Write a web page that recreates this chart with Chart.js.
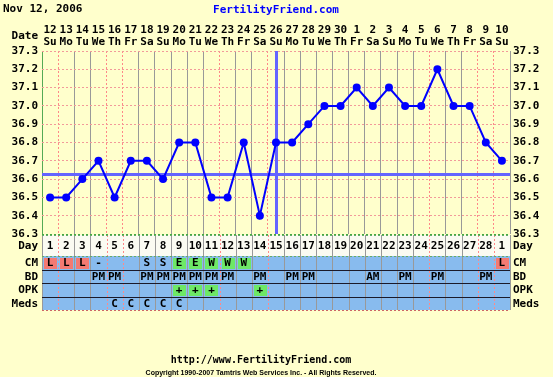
<!DOCTYPE html>
<html>
<head>
<meta charset="utf-8">
<script src="https://cdn.jsdelivr.net/npm/chart.js@4.4.1/dist/chart.umd.min.js"></script>
<style>
  html, body { margin: 0; padding: 0; background: #ffffcc; }
  canvas { display: block; }
</style>
</head>
<body>
<canvas id="bbtChart" width="553" height="377"></canvas>
<script>
const dates = ["12", "13", "14", "15", "16", "17", "18", "19", "20", "21", "22", "23", "24", "25", "26",
  "27", "28", "29", "30", "1", "2", "3", "4", "5", "6", "7", "8", "9", "10"];
const weekdays = ["Su", "Mo", "Tu", "We", "Th", "Fr", "Sa", "Su", "Mo", "Tu", "We", "Th", "Fr", "Sa", "Su",
  "Mo", "Tu", "We", "Th", "Fr", "Sa", "Su", "Mo", "Tu", "We", "Th", "Fr", "Sa", "Su"];
const cycleDays = ["1", "2", "3", "4", "5", "6", "7", "8", "9", "10", "11", "12", "13", "14", "15",
  "16", "17", "18", "19", "20", "21", "22", "23", "24", "25", "26", "27", "28", "1"];
const temps = [36.5, 36.5, 36.6, 36.7, 36.5, 36.7, 36.7, 36.6, 36.8, 36.8, 36.5, 36.5, 36.8, 36.4, 36.8,
  36.8, 36.9, 37.0, 37.0, 37.1, 37.0, 37.1, 37.0, 37.0, 37.2, 37.0, 37.0, 36.8, 36.7];
const coverline = 36.63;
const ovulationIndex = 14; // cycle day 15

const cm   = ["L", "L", "L", "-", "", "", "S", "S", "E", "E", "W", "W", "W", "", "",
  "", "", "", "", "", "", "", "", "", "", "", "", "", "L"];
const bd   = ["", "", "", "PM", "PM", "", "PM", "PM", "PM", "PM", "PM", "PM", "", "PM", "",
  "PM", "PM", "", "", "", "AM", "", "PM", "", "PM", "", "", "PM", ""];
const opk  = ["", "", "", "", "", "", "", "", "+", "+", "+", "", "", "+", "",
  "", "", "", "", "", "", "", "", "", "", "", "", "", ""];
const meds = ["", "", "", "", "C", "C", "C", "C", "C", "", "", "", "", "", "",
  "", "", "", "", "", "", "", "", "", "", "", "", "", ""];

// column boundaries drawn as red dotted lines instead of grey
const redBoundaries = [1, 4, 5, 11, 14, 24, 27, 28];

const FONT = "DejaVu Sans Mono";
const bold11 = { family: FONT, size: 11, weight: "bold", lineHeight: "12px" };

const tablePlugin = {
  id: "ffTable",
  beforeDraw(chart) {
    const ctx = chart.ctx;
    ctx.save();
    ctx.fillStyle = "#ffffcc";
    ctx.fillRect(0, 0, chart.width, chart.height);
    ctx.restore();
  },
  beforeDatasetsDraw(chart) {
    const ctx = chart.ctx;
    const x = chart.scales.x, y = chart.scales.y;
    const area = chart.chartArea;
    ctx.save();
    ctx.strokeStyle = "#6464ff";
    ctx.lineWidth = 3;
    const cy = Math.round(y.getPixelForValue(coverline)) + 0.5;
    ctx.beginPath();
    ctx.moveTo(area.left, cy);
    ctx.lineTo(area.right, cy);
    ctx.stroke();
    const ox = Math.round(x.getPixelForValue(ovulationIndex)) + 0.5;
    ctx.beginPath();
    ctx.moveTo(ox, area.top);
    ctx.lineTo(ox, area.bottom);
    ctx.stroke();
    ctx.restore();
  },
  afterDraw(chart) {
    const ctx = chart.ctx;
    const x = chart.scales.x;
    const area = chart.chartArea;
    const colW = x.width / dates.length;
    ctx.save();

    // header texts
    ctx.font = "bold 11px " + FONT;
    ctx.textBaseline = "middle";
    ctx.fillStyle = "#000";
    ctx.textAlign = "left";
    ctx.fillText("Nov 12, 2006", 3, 9);
    ctx.fillStyle = "#0000ff";
    ctx.textAlign = "center";
    ctx.fillText("FertilityFriend.com", 276, 10);
    ctx.fillStyle = "#000";
    ctx.textAlign = "right";
    ctx.fillText("Date", 38, 36);

    // table
    const dayTop = 235, dayBot = 256;
    const rowH = 13.5;
    const rows = [
      { name: "CM", cells: cm },
      { name: "BD", cells: bd },
      { name: "OPK", cells: opk },
      { name: "Meds", cells: meds }
    ];
    const tableBot = dayBot + rowH * rows.length;

    ctx.fillStyle = "#fbfbf2";
    ctx.fillRect(area.left, dayTop, area.right - area.left, dayBot - dayTop);
    ctx.fillStyle = "#88bbee";
    ctx.fillRect(area.left, dayBot, area.right - area.left, tableBot - dayBot);

    const cellColor = (v) => {
      if (v === "L") return "#f47a72";
      if (v === "E" || v === "W" || v === "+") return "#6ee866";
      return null;
    };

    rows.forEach((row, r) => {
      const top = dayBot + r * rowH;
      row.cells.forEach((v, i) => {
        const c = cellColor(v);
        if (c) {
          const cx = x.getPixelForValue(i);
          ctx.fillStyle = c;
          ctx.fillRect(Math.round(cx - colW / 2) + 2, Math.round(top) + 2, Math.round(colW) - 3, Math.round(rowH) - 3);
        }
      });
    });

    // vertical lines in table
    for (let k = 0; k <= dates.length; k++) {
      const lx = Math.round(area.left + k * colW) + 0.5;
      const red = redBoundaries.includes(k);
      ctx.strokeStyle = red ? "#ff8888" : "#999999";
      ctx.setLineDash(red ? [2, 2] : []);
      ctx.lineWidth = 1;
      ctx.beginPath();
      ctx.moveTo(lx, dayTop);
      ctx.lineTo(lx, tableBot);
      ctx.stroke();
    }
    ctx.setLineDash([]);

    // horizontal separators
    ctx.strokeStyle = "#66aa66";
    ctx.setLineDash([2, 2]);
    [dayTop, dayBot].forEach((yy) => {
      ctx.beginPath();
      ctx.moveTo(area.left, Math.round(yy) + 0.5);
      ctx.lineTo(area.right, Math.round(yy) + 0.5);
      ctx.stroke();
    });
    ctx.setLineDash([]);
    ctx.strokeStyle = "#1a1a2a";
    for (let r = 1; r < rows.length; r++) {
      const yy = Math.round(dayBot + r * rowH) + 0.5;
      ctx.beginPath();
      ctx.moveTo(area.left, yy);
      ctx.lineTo(area.right, yy);
      ctx.stroke();
    }
    ctx.strokeStyle = "#cc6666";
    ctx.setLineDash([2, 2]);
    ctx.beginPath();
    ctx.moveTo(area.left, Math.round(tableBot) + 0.5);
    ctx.lineTo(area.right, Math.round(tableBot) + 0.5);
    ctx.stroke();
    ctx.setLineDash([]);

    // texts
    ctx.font = "bold 11px " + FONT;
    ctx.fillStyle = "#000";
    ctx.textAlign = "center";
    cycleDays.forEach((d, i) => ctx.fillText(d, x.getPixelForValue(i), (dayTop + dayBot) / 2 + 1));
    rows.forEach((row, r) => {
      const cy = dayBot + r * rowH + rowH / 2 + 0.5;
      row.cells.forEach((v, i) => {
        if (v) ctx.fillText(v, x.getPixelForValue(i), cy);
      });
    });

    const labels = [{ t: "Day", y: (dayTop + dayBot) / 2 + 1 }].concat(
      rows.map((row, r) => ({ t: row.name, y: dayBot + r * rowH + rowH / 2 + 0.5 })));
    labels.forEach((l) => {
      ctx.textAlign = "right";
      ctx.fillText(l.t, 38, l.y);
      ctx.textAlign = "left";
      ctx.fillText(l.t, 513, l.y);
    });

    // footer
    ctx.textAlign = "center";
    ctx.font = "bold 10px " + FONT;
    ctx.fillText("http://www.FertilityFriend.com", 261, 360);
    ctx.font = "bold 7px Liberation Sans";
    ctx.fillText("Copyright 1990-2007 Tamtris Web Services Inc. - All Rights Reserved.", 261, 373);

    ctx.restore();
  }
};

new Chart(document.getElementById("bbtChart"), {
  type: "line",
  data: {
    labels: dates,
    datasets: [{
      label: "BBT",
      data: temps,
      borderColor: "#0000ff",
      backgroundColor: "#0000ff",
      borderWidth: 2,
      pointRadius: 4,
      pointBorderWidth: 0,
      pointBackgroundColor: "#0000ff",
      tension: 0,
      fill: false
    }]
  },
  options: {
    responsive: false,
    animation: false,
    devicePixelRatio: 1,
    layout: { padding: { top: 0, left: 0, right: 0, bottom: 143 } },
    plugins: { legend: { display: false }, tooltip: { enabled: false } },
    scales: {
      x: {
        type: "category",
        position: "top",
        offset: true,
        afterFit(s) { s.height = 51; },
        border: {
          display: false,
          dash: (c) => (redBoundaries.includes(c.index) ? [2, 2] : [])
        },
        grid: {
          offset: true,
          drawTicks: false,
          lineWidth: 1,
          color: (c) => {
            if (c.index === 0) return "#55aa55";
            return redBoundaries.includes(c.index) ? "#ff8888" : "#999999";
          }
        },
        ticks: {
          autoSkip: false,
          maxRotation: 0,
          padding: 3,
          color: "#000",
          font: bold11,
          callback: (v, i) => [dates[i], weekdays[i]]
        }
      },
      y: {
        position: "left",
        min: 36.3,
        max: 37.3,
        afterFit(s) { s.width = 42; },
        border: { display: false, dash: [2, 2] },
        grid: {
          drawTicks: false,
          color: (c) => (c.tick && Math.abs(c.tick.value - 36.3) < 0.01 ? "#44aa44" : "#f29a9a")
        },
        ticks: {
          stepSize: 0.1,
          padding: 4,
          color: "#000",
          font: bold11,
          callback: (v) => Number(v).toFixed(1)
        }
      },
      y2: {
        position: "right",
        min: 36.3,
        max: 37.3,
        afterFit(s) { s.width = 43; },
        border: { display: false },
        grid: { display: false, drawTicks: false },
        ticks: {
          stepSize: 0.1,
          padding: 3,
          color: "#000",
          font: bold11,
          callback: (v) => Number(v).toFixed(1)
        }
      }
    }
  },
  plugins: [tablePlugin]
});
</script>
</body>
</html>
